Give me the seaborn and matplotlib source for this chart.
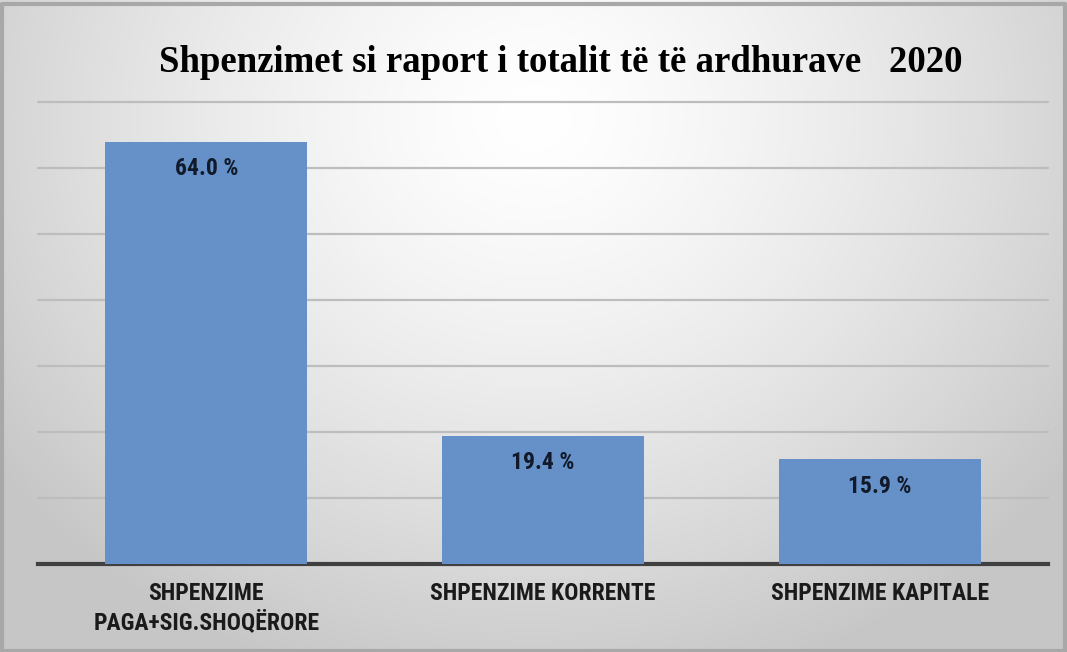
import numpy as np
import pandas as pd
import matplotlib
matplotlib.use("Agg")
import matplotlib.pyplot as plt
import seaborn as sns

categories = ["SHPENZIME\nPAGA+SIG.SHOQËRORE", "SHPENZIME KORRENTE", "SHPENZIME KAPITALE"]
values = [64.0, 19.4, 15.9]
value_labels = ["64.0 %", "19.4 %", "15.9 %"]
title = "Shpenzimet si raport i totalit të të ardhurave   2020"

sns.set_theme(style="white")
plt.rcParams['font.family'] = ['DejaVu Sans']
LABEL_FONT = ["Roboto Condensed", "Roboto", "DejaVu Sans"]

W, H = 1067, 652
fig = plt.figure(figsize=(W / 100, H / 100), dpi=100)

# background radial gradient
bg = fig.add_axes([0, 0, 1, 1], zorder=-10)
yy, xx = np.mgrid[0:H, 0:W]
cx, cy = W * 0.5, H * 0.18
d = np.sqrt(((xx - cx) / (W * 0.62)) ** 2 + ((yy - cy) / (H * 0.9)) ** 2)
d = np.clip(d, 0, 1)
val = 1.0 - 0.22 * d ** 1.4
img = np.dstack([val, val, val])
bg.imshow(img, aspect="auto", extent=[0, 1, 0, 1], origin="upper")
bg.plot([0.002, 0.998, 0.998, 0.002, 0.002], [0.002, 0.002, 0.994, 0.994, 0.002],
        color="#a8a8a8", lw=3)
bg.set_xlim(0, 1)
bg.set_ylim(0, 1)
bg.axis("off")

ax = fig.add_axes([38 / W, 1 - 564 / H, (1048 - 38) / W, (564 - 102) / H])
ax.patch.set_alpha(0)
df = pd.DataFrame({"cat": categories, "val": values})
sns.barplot(data=df, x="cat", y="val", color="#6691c8", saturation=1, width=0.6,
            linewidth=0, ax=ax, zorder=3)
ax.set_ylim(0, 70)
ax.set_yticks(np.arange(10, 71, 10))
ax.yaxis.grid(True, color="#bdbdbd", lw=1.6, zorder=0)
for gl in ax.get_ygridlines():
    gl.set_clip_on(False)
ax.set_axisbelow(True)
for s in ["top", "right", "left"]:
    ax.spines[s].set_visible(False)
ax.spines["bottom"].set_color("#404040")
ax.spines["bottom"].set_linewidth(3)
ax.set_yticklabels([])
ax.tick_params(axis="y", length=0)
ax.tick_params(axis="x", length=0, pad=13)
ax.set_xlabel("")
ax.set_ylabel("")
for lab in ax.get_xticklabels():
    lab.set_family(LABEL_FONT)
    lab.set_fontweight("bold")
    lab.set_fontsize(17)
    lab.set_color("#1a1a1a")
    lab.set_linespacing(1.27)

for i, (v, t) in enumerate(zip(values, value_labels)):
    ax.annotate(t, (i, v), xytext=(0, -27), textcoords="offset pixels",
                ha="center", va="center", fontsize=17, fontweight="bold",
                color="#111a2a", family=LABEL_FONT, zorder=5)

fig.text(561 / W, 1 - 62 / H, title, ha="center", va="center", fontsize=26.5,
         fontweight="bold", family=["Liberation Serif", "DejaVu Serif"], color="#000000")

fig.savefig("out.png", dpi=100)
